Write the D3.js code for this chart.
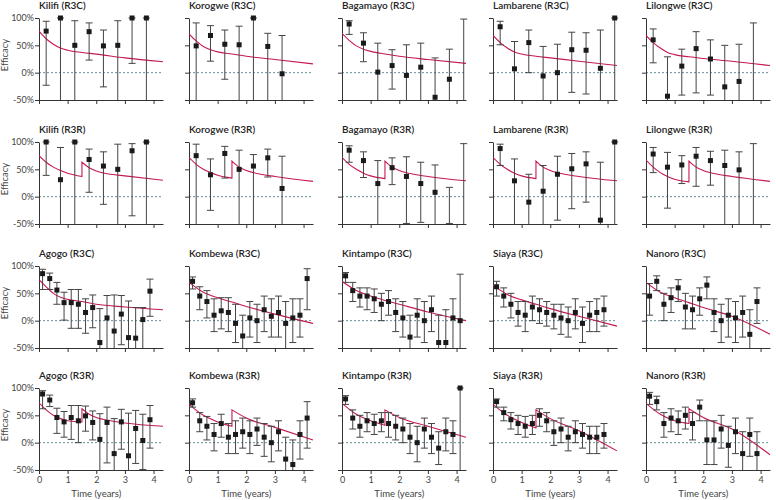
<!DOCTYPE html>
<html>
<head>
<meta charset="utf-8">
<script src="https://cdn.jsdelivr.net/npm/d3@7"></script>
<style>
  body { margin: 0; background: #fff; }
  svg { display: block; }
  text { font-family: Lato, "Open Sans", sans-serif; }
</style>
</head>
<body>
<svg id="chart" width="776" height="500"></svg>
<script>
'use strict';

var sites = ['Kilifi', 'Korogwe', 'Bagamayo', 'Lambarene', 'Lilongwe', 'Agogo', 'Kombewa', 'Kintampo', 'Siaya', 'Nanoro'];
var arms = ['R3C', 'R3R'];
var yTicks = [100, 50, 0, -50];
var xTicks = [0, 1, 2, 3, 4];
var semiTimes = [0.25, 0.75, 1.25, 1.75, 2.25, 2.75, 3.25, 3.75, 4.25];
var quarterTimes = [0.125, 0.375, 0.625, 0.875, 1.125, 1.375, 1.625, 1.875, 2.125, 2.375, 2.625, 2.875, 3.125, 3.375, 3.625, 3.875, 4.125];

// observed efficacy per interval: [estimate, lower, upper]
var kilifiR3C = [[76, -23, 94], [100, -50, 100], [50, -50, 95], [75, 23, 91], [49, -26, 78], [50, -50, 95], [100, 17, 100], [100, -50, 100]];
var korogweR3C = [[49, -50, 91], [68, 21, 86], [52, -12, 78], [51, -50, 85], [100, -50, 100], [48, -50, 72], [-2, -50, 68]];
var bagamayoR3C = [[89, 70, 95], [54, 20, 73], [1, -50, 54], [13, -30, 42], [-5, -50, 51], [10, -50, 54], [-45, -50, 27], [-12, -50, 43], [-60, -50, 98]];
var lambareneR3C = [[84, 51, 94], [7, -50, 57], [55, 0, 78], [-6, -50, 48], [0, -50, 52], [42, -36, 74], [41, -39, 73], [8, -50, 78], [100, -50, 100]];
var lilongweR3C = [[60, 18, 80], [-43, -50, 29], [12, -41, 43], [44, -37, 75], [25, -41, 60], [-26, -50, 50], [-16, -50, 52], [-60, -50, 91]];

var kilifiR3R = [[100, 39, 100], [31, -50, 90], [100, -50, 100], [68, 8, 87], [56, -14, 82], [50, -50, 96], [84, -35, 97], [100, -50, 100]];
var korogweR3R = [[75, -50, 96], [40, -25, 69], [79, 34, 92], [50, -50, 85], [56, -50, 77], [71, 36, 87], [15, -50, 74]];
var bagamayoR3R = [[85, 63, 93], [66, 35, 82], [24, -50, 66], [53, 22, 71], [37, -49, 73], [24, -47, 63], [8, -50, 58], [-60, -49, 17], [-60, -50, 97]];
var lambareneR3R = [[88, 57, 96], [29, -50, 69], [-10, -50, 41], [10, -50, 57], [41, -43, 74], [51, -22, 79], [60, -10, 82], [-43, -50, 63], [100, -50, 100]];
var lilongweR3R = [[78, 44, 90], [54, -21, 81], [58, 24, 75], [74, 19, 90], [66, 21, 83], [57, -50, 85], [49, -50, 82], [-60, -50, 97]];

var agogoR3C = [[86, 57, 94], [77, 57, 87], [56, 30, 70], [33, 1, 52], [33, -14, 57], [30, -14, 57], [15, -23, 40], [24, -13, 47], [-40, -50, 22], [5, -50, 46], [-19, -50, 47], [12, -44, 46], [-31, -50, 36], [-32, -50, 24], [2, -50, 24], [54, 8, 76]];
var kombewaR3C = [[72, 58, 80], [45, 20, 62], [35, 5, 55], [10, -20, 40], [18, -15, 42], [15, -20, 42], [-5, -40, 30], [-28, -50, 10], [5, -30, 35], [0, -40, 30], [20, -20, 45], [8, -30, 40], [15, -30, 45], [-5, -50, 35], [5, -40, 40], [10, -30, 40], [77, 20, 95]];
var kintampoR3C = [[82, 70, 88], [55, 35, 70], [45, 25, 60], [45, 20, 60], [40, 15, 58], [30, 0, 50], [35, 10, 55], [15, -20, 40], [5, -30, 35], [-30, -50, 10], [10, -30, 40], [0, -40, 35], [20, -20, 45], [-40, -50, 10], [-40, -50, 20], [5, -50, 40], [0, -50, 85]];
var siayaR3C = [[62, 45, 72], [45, 25, 60], [30, 5, 50], [15, -10, 35], [10, -20, 35], [25, 0, 45], [20, -5, 40], [15, -10, 35], [10, -15, 30], [5, -25, 30], [0, -30, 25], [15, -15, 40], [-5, -40, 25], [10, -20, 35], [15, -20, 40], [20, -10, 45]];
var nanoroR3C = [[45, 10, 68], [72, 55, 82], [30, 0, 50], [42, 15, 60], [60, 35, 75], [25, -15, 50], [20, -15, 45], [40, 10, 60], [65, 40, 80], [15, -20, 40], [0, -40, 30], [10, -30, 40], [5, -40, 35], [15, -30, 45], [-25, -50, 20], [35, -5, 60]];

var agogoR3R = [[89, 62, 95], [78, 66, 87], [46, 17, 63], [38, 10, 57], [46, 6, 68], [40, 0, 68], [49, 21, 67], [37, 5, 58], [6, -50, 53], [37, -37, 65], [-20, -50, 44], [38, -12, 61], [-24, -50, 54], [26, -38, 59], [4, -49, 52], [42, -10, 68]];
var kombewaR3R = [[73, 65, 80], [40, 20, 55], [30, 5, 48], [15, -15, 35], [35, 10, 52], [10, -20, 35], [15, -20, 40], [20, -10, 45], [15, -20, 40], [25, -5, 45], [10, -25, 35], [0, -35, 30], [20, -15, 40], [-30, -50, 10], [-40, -50, 5], [15, -30, 40], [45, -10, 75]];
var kintampoR3R = [[80, 70, 86], [45, 25, 60], [30, 10, 50], [40, 20, 55], [35, 15, 52], [40, 20, 55], [35, 10, 55], [30, 5, 50], [25, 0, 45], [10, -20, 35], [0, -35, 30], [25, -10, 45], [10, -20, 35], [-10, -40, 20], [20, -15, 45], [15, -20, 40], [100, -50, 100]];
var siayaR3R = [[75, 65, 80], [55, 40, 65], [42, 25, 55], [35, 15, 50], [30, 10, 48], [35, 15, 50], [50, 30, 62], [40, 20, 55], [20, -5, 40], [25, 0, 45], [10, -15, 30], [20, 0, 40], [15, -10, 35], [10, -20, 30], [10, -20, 30], [15, -10, 35]];
var nanoroR3R = [[85, 70, 92], [75, 60, 85], [35, 10, 55], [45, 20, 62], [40, 15, 58], [50, 25, 65], [35, 5, 55], [65, 40, 78], [5, -40, 40], [5, -40, 40], [25, -10, 50], [-5, -45, 30], [20, -20, 45], [-20, -50, 20], [15, -25, 45], [-20, -50, 20]];

// fitted model curves: [time, efficacy]
var kilifiR3Cfit = [[0, 76], [0.25, 62], [0.5, 52], [0.75, 45], [1, 41], [1.5, 37], [2, 34], [3, 27], [4.33, 20]];
var korogweR3Cfit = [[0, 71], [0.25, 58], [0.5, 48], [0.75, 42], [1, 38], [1.5, 34], [2, 30], [3, 24], [4.33, 16]];
var bagamayoR3Cfit = [[0, 72], [0.25, 59], [0.5, 49], [0.75, 43], [1, 39], [1.5, 34], [2, 30], [3, 24], [4.33, 17]];
var lambareneR3Cfit = [[0, 68], [0.25, 55], [0.5, 45], [0.75, 38], [1, 34], [1.5, 30], [2, 27], [3, 21], [4.33, 13]];
var lilongweR3Cfit = [[0, 68], [0.25, 55], [0.5, 45], [0.75, 37], [1, 33], [1.5, 29], [2, 26], [3, 21], [4.33, 13]];
var kilifiR3Rfit = [[0, 75], [0.25, 63], [0.5, 54], [0.75, 48], [1, 43], [1.5, 37], [1.5, 63], [1.75, 53], [2, 47], [2.5, 41], [3, 38], [4.33, 30]];
var korogweR3Rfit = [[0, 72], [0.25, 59], [0.5, 50], [0.75, 44], [1, 39], [1.5, 34], [1.5, 65], [1.75, 54], [2, 48], [2.5, 41], [3, 37], [4.33, 28]];
var bagamayoR3Rfit = [[0, 72], [0.25, 59], [0.5, 50], [0.75, 43], [1, 38], [1.5, 33], [1.5, 65], [1.75, 54], [2, 48], [2.5, 41], [3, 37], [4.33, 29]];
var lambareneR3Rfit = [[0, 72], [0.25, 59], [0.5, 50], [0.75, 43], [1, 38], [1.5, 33], [1.5, 65], [1.75, 54], [2, 48], [2.5, 41], [3, 37], [4.33, 29]];
var lilongweR3Rfit = [[0, 67], [0.25, 54], [0.5, 44], [0.75, 37], [1, 32], [1.5, 27], [1.5, 65], [1.75, 54], [2, 48], [2.5, 41], [3, 37], [4.33, 28]];
var agogoR3Cfit = [[0, 75], [0.25, 62], [0.5, 50], [0.75, 43], [1, 39], [1.5, 35], [2, 30], [3, 25], [4.33, 20]];
var kombewaR3Cfit = [[0, 70], [0.5, 52], [1, 42], [1.5, 34], [2, 26], [3, 12], [4.33, -5]];
var kintampoR3Cfit = [[0, 72], [0.5, 55], [1, 45], [1.5, 37], [2, 30], [3, 16], [4.33, 0]];
var siayaR3Cfit = [[0, 65], [0.5, 48], [1, 38], [1.5, 30], [2, 22], [3, 8], [4.33, -10]];
var nanoroR3Cfit = [[0, 70], [0.5, 52], [1, 42], [1.5, 33], [2, 24], [3, 8], [4.33, -25]];
var agogoR3Rfit = [[0, 73], [0.25, 60], [0.5, 50], [0.75, 44], [1, 40], [1.5, 38], [1.5, 62], [1.75, 52], [2, 46], [2.5, 40], [3, 36], [4.33, 30]];
var kombewaR3Rfit = [[0, 70], [0.5, 50], [1, 38], [1.5, 30], [1.5, 60], [2, 45], [3, 28], [4.33, 5]];
var kintampoR3Rfit = [[0, 72], [0.5, 52], [1, 40], [1.5, 32], [1.5, 60], [2, 46], [3, 30], [4.33, 10]];
var siayaR3Rfit = [[0, 70], [0.5, 50], [1, 37], [1.5, 27], [1.5, 60], [2, 44], [3, 22], [4.33, -15]];
var nanoroR3Rfit = [[0, 72], [0.5, 52], [1, 40], [1.5, 35], [1.5, 62], [2, 46], [3, 25], [4.33, -22]];

var obsByPanel = [
    [kilifiR3C, korogweR3C, bagamayoR3C, lambareneR3C, lilongweR3C],
    [kilifiR3R, korogweR3R, bagamayoR3R, lambareneR3R, lilongweR3R],
    [agogoR3C, kombewaR3C, kintampoR3C, siayaR3C, nanoroR3C],
    [agogoR3R, kombewaR3R, kintampoR3R, siayaR3R, nanoroR3R]
];
var fitByPanel = [
    [kilifiR3Cfit, korogweR3Cfit, bagamayoR3Cfit, lambareneR3Cfit, lilongweR3Cfit],
    [kilifiR3Rfit, korogweR3Rfit, bagamayoR3Rfit, lambareneR3Rfit, lilongweR3Rfit],
    [agogoR3Cfit, kombewaR3Cfit, kintampoR3Cfit, siayaR3Cfit, nanoroR3Cfit],
    [agogoR3Rfit, kombewaR3Rfit, kintampoR3Rfit, siayaR3Rfit, nanoroR3Rfit]
];

var svg = d3.select('#chart');
var colX = [39, 189, 342, 493, 646],
    rowTop = [18, 142, 266, 388],
    panelW = 124,
    panelH = 82;

var x = d3.scaleLinear().domain([0, 4.33]).range([0, panelW]);
var y = d3.scaleLinear().domain([-50, 100]).range([panelH, 0]);
var clampY = function(v) { return y(Math.max(-50, Math.min(100, v))); };

//monotone curve per segment, the booster jump joined by a straight line
var line = d3.line().x(function(d) { return x(d[0]); }).y(function(d) { return y(d[1]); }).curve(d3.curveMonotoneX);
var fitPath = function(pts) {
    var segs = [[]];
    pts.forEach(function(p, i) {
        if (i > 0 && p[0] === pts[i - 1][0]) { segs.push([]); }
        segs[segs.length - 1].push(p);
    });
    return segs.map(function(s, i) {
        var d = line(s);
        return i === 0 ? d : 'L' + d.slice(1);
    }).join('');
};

svg.append('defs').append('clipPath').attr('id', 'plotClip')
    .append('rect').attr('x', 0).attr('y', 0).attr('width', panelW + 2).attr('height', panelH);

obsByPanel.forEach(function(rowData, r) {
    rowData.forEach(function(obs, c) {
        var siteIdx = r < 2 ? c : c + 5,
            arm = arms[r % 2],
            times = r < 2 ? semiTimes : quarterTimes,
            g = svg.append('g').attr('transform', 'translate(' + colX[c] + ',' + rowTop[r] + ')');

        g.append('text')
            .attr('x', 0).attr('y', -9)
            .attr('font-size', 10).attr('font-weight', 600).attr('fill', '#222')
            .text(sites[siteIdx] + ' (' + arm + ')');

        //zero reference line
        g.append('line')
            .attr('x1', 0).attr('x2', panelW)
            .attr('y1', y(0)).attr('y2', y(0))
            .attr('stroke', '#557f8c').attr('stroke-width', 0.9)
            .attr('stroke-dasharray', '2,2');

        var yAxis = g.append('g').call(d3.axisLeft(y).tickValues(yTicks).tickSize(4).tickSizeOuter(0)
            .tickFormat(function(d) { return c === 0 ? d + '%' : ''; }));
        var xAxis = g.append('g').attr('transform', 'translate(0,' + panelH + ')')
            .call(d3.axisBottom(x).tickValues(xTicks).tickSize(4).tickSizeOuter(0)
                .tickFormat(function(d) { return r === 3 ? d : ''; }));
        [yAxis, xAxis].forEach(function(ax) {
            ax.selectAll('path, line').attr('stroke', '#333');
            ax.selectAll('text').attr('font-size', 9).attr('fill', '#444')
                .style('font-family', 'Lato, "Open Sans", sans-serif');
        });
        yAxis.selectAll('text').attr('x', -5);

        g.append('path')
            .attr('d', fitPath(fitByPanel[r][c]))
            .attr('clip-path', 'url(#plotClip)')
            .attr('fill', 'none').attr('stroke', '#c8194f').attr('stroke-width', 1.1);

        var bars = g.selectAll('.bar').data(obs).enter().append('g').attr('class', 'bar');
        bars.append('line')
            .attr('x1', function(d, i) { return x(times[i]); })
            .attr('x2', function(d, i) { return x(times[i]); })
            .attr('y1', function(d) { return clampY(d[2]); })
            .attr('y2', function(d) { return clampY(d[1]); })
            .attr('stroke', '#444').attr('stroke-width', 1);
        bars.filter(function(d) { return d[2] <= 100; }).append('line')
            .attr('x1', function(d) { return x(times[obs.indexOf(d)]) - 3.5; })
            .attr('x2', function(d) { return x(times[obs.indexOf(d)]) + 3.5; })
            .attr('y1', function(d) { return y(d[2]); })
            .attr('y2', function(d) { return y(d[2]); })
            .attr('stroke', '#444').attr('stroke-width', 1);
        bars.filter(function(d) { return d[1] > -50; }).append('line')
            .attr('x1', function(d) { return x(times[obs.indexOf(d)]) - 3.5; })
            .attr('x2', function(d) { return x(times[obs.indexOf(d)]) + 3.5; })
            .attr('y1', function(d) { return y(d[1]); })
            .attr('y2', function(d) { return y(d[1]); })
            .attr('stroke', '#444').attr('stroke-width', 1);
        bars.filter(function(d) { return d[0] >= -50; }).append('rect')
            .attr('x', function(d) { return x(times[obs.indexOf(d)]) - 2.5; })
            .attr('y', function(d) { return y(d[0]) - 2.5; })
            .attr('width', 5).attr('height', 5)
            .attr('fill', '#1a1a1a');

        if (c === 0) {
            g.append('text')
                .attr('transform', 'translate(-31,' + (panelH / 2 - 4) + ') rotate(-90)')
                .attr('text-anchor', 'middle')
                .attr('font-size', 9.5).attr('fill', '#444')
                .text('Efficacy');
        }
        if (r === 3) {
            g.append('text')
                .attr('x', x(2)).attr('y', panelH + 27)
                .attr('text-anchor', 'middle')
                .attr('font-size', 9.5).attr('fill', '#444')
                .text('Time (years)');
        }
    });
});
</script>
</body>
</html>
